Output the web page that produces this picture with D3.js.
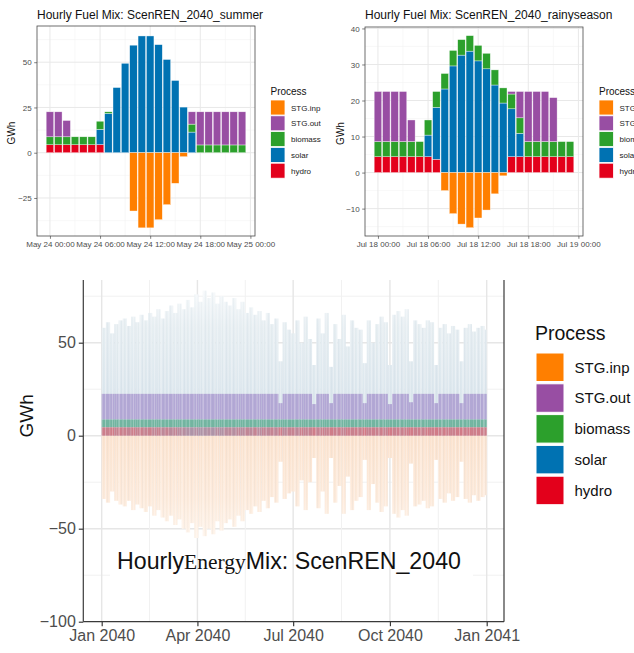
<!DOCTYPE html>
<html>
<head>
<meta charset="utf-8">
<script src="https://cdn.jsdelivr.net/npm/d3@7/dist/d3.min.js"></script>
<style>
  body { margin: 0; background: #fff; }
  svg { display: block; }
  text { font-family: "Liberation Sans", Arial, Helvetica, sans-serif; }
</style>
</head>
<body>
<svg id="chart" width="634" height="653"></svg>
<script>
// ---------- shared legend / palette ----------
const processes = ["STG.inp", "STG.out", "biomass", "solar", "hydro"];
const processColors = ["#FF7F00", "#984EA3", "#2CA02C", "#0072B2", "#E3001B"];
const stackKeys = ["hydro", "solar", "biomass", "STG.out", "STG.inp"];

// ---------- hourly day profiles (GWh) ----------
const hours = [0, 1, 2, 3, 4, 5, 6, 7, 8, 9, 10, 11, 12, 13, 14, 15, 16, 17, 18, 19, 20, 21, 22, 23];

const summerHydro   = [4.4, 4.4, 4.4, 4.4, 4.4, 4.4, 4.5, 0, 0, 0, 0, 0, 0, 0, 0, 0, 0, 0, 0, 0, 0, 0, 0, 0];
const summerSolar   = [0, 0, 0, 0, 0, 0, 8.4, 21.7, 36.0, 49.4, 59.4, 64.5, 64.5, 59.7, 51.5, 39.9, 25.2, 11.4, 0, 0, 0, 0, 0, 0];
const summerBiomass = [4.4, 4.4, 4.4, 4.4, 4.4, 4.4, 4.5, 0.9, 0, 0, 0, 0, 0, 0, 0, 0, 0, 4.4, 4.3, 4.3, 4.3, 4.3, 4.3, 4.3];
const summerStgOut  = [13.8, 13.8, 9.0, 0, 0, 0, 0, 0, 0, 0, 0, 0, 0, 0, 0, 0, 0, 6.8, 18.3, 18.3, 18.3, 18.3, 18.3, 18.3];
const summerStgInp  = [0, 0, 0, 0, 0, 0, 0, 0, 0, 0, -32.2, -41.5, -41.5, -37.0, -28.7, -16.9, -2.2, 0, 0, 0, 0, 0, 0, 0];

const rainyHydro   = [4.4, 4.4, 4.4, 4.4, 4.4, 4.4, 4.4, 3.7, 0, 0, 0, 0, 0, 0, 0, 0, 4.4, 4.4, 4.4, 4.4, 4.4, 4.4, 4.4, 4.4];
const rainySolar   = [0, 0, 0, 0, 0, 0, 6.0, 14.4, 23.2, 29.6, 32.6, 33.7, 31.0, 28.8, 24.3, 19.3, 13.3, 6.5, 0, 0, 0, 0, 0, 0];
const rainyBiomass = [4.2, 4.2, 4.2, 4.2, 4.2, 4.2, 4.2, 4.4, 4.3, 4.3, 4.3, 4.3, 4.3, 4.3, 4.2, 4.2, 4.1, 4.3, 4.2, 4.2, 4.2, 4.2, 4.2, 4.2];
const rainyStgOut  = [13.9, 13.9, 13.9, 13.9, 6.0, 0, 0, 0, 0, 0, 0, 0, 0, 0, 0, 0, 0.7, 7.3, 13.9, 13.9, 13.9, 12.2, 0, 0];
const rainyStgInp  = [0, 0, 0, 0, 0, 0, 0, 0, -5.0, -11.4, -14.3, -15.3, -12.6, -10.4, -5.9, -0.9, 0, 0, 0, 0, 0, 0, 0, 0];

const summerTickLabels = ["May 24 00:00", "May 24 06:00", "May 24 12:00", "May 24 18:00", "May 25 00:00"];
const rainyTickLabels  = ["Jul 18 00:00", "Jul 18 06:00", "Jul 18 12:00", "Jul 18 18:00", "Jul 19 00:00"];
const dayTickHours = [0, 6, 12, 18, 24];
const summerYTicks = [-25, 0, 25, 50];
const rainyYTicks  = [-10, 0, 10, 20, 30, 40];

// ---------- whole-year profile, 4-day bins (GWh) ----------
const yearSolarPeak = [
  58, 61, 55, 60, 62, 63, 59, 64, 61, 65,
  62, 66, 64, 68, 63, 67, 70, 66, 71, 68,
  73, 69, 76, 72, 78, 74, 77, 71, 75, 72,
  70, 74, 68, 72, 66, 69, 65, 67, 62, 66,
  60, 63, 40, 61, 57, 55, 62, 50, 64, 52,
  38, 63, 55, 66, 37, 60, 52, 65, 48, 62,
  58, 57, 39, 62, 50, 60, 64, 61, 38, 65,
  67, 64, 68, 40, 62, 60, 58, 62, 61, 38,
  58, 60, 55, 59, 57, 40, 58, 60, 56, 58,
  59, 57
];
const yearStgInpMin = [
  -34, -36, -30, -35, -37, -38, -35, -40, -37, -39,
  -41, -38, -43, -40, -44, -46, -43, -48, -45, -50,
  -52, -47, -55, -49, -54, -50, -53, -46, -51, -47,
  -45, -49, -43, -46, -40, -42, -38, -41, -35, -39,
  -33, -36, -14, -34, -31, -30, -38, -24, -40, -25,
  -12, -39, -30, -42, -12, -36, -27, -42, -22, -40,
  -35, -33, -13, -40, -26, -36, -41, -38, -12, -42,
  -44, -40, -43, -15, -38, -37, -35, -39, -38, -13,
  -34, -36, -31, -35, -33, -14, -34, -36, -32, -35,
  -33, -32
];
const yearStgOutTop = [
  22.5, 22.5, 22.5, 22.5, 22.5, 22.5, 22.5, 22.5, 22.5, 22.5,
  22.5, 22.5, 22.5, 22.5, 22.5, 22.5, 22.5, 22.5, 22.5, 22.5,
  22.5, 22.5, 22.5, 22.5, 22.5, 22.5, 22.5, 22.5, 22.5, 22.5,
  22.5, 22.5, 22.5, 22.5, 22.5, 22.5, 22.5, 22.5, 22.5, 22.5,
  22.5, 22.5, 17.5, 22.5, 22.5, 22.5, 22.5, 22.5, 22.5, 22.5,
  17.0, 22.5, 22.5, 22.5, 17.5, 22.5, 22.5, 22.5, 22.5, 22.5,
  22.5, 22.5, 17.5, 22.5, 22.5, 22.5, 22.5, 22.5, 17.0, 22.5,
  22.5, 22.5, 22.5, 18.0, 22.5, 22.5, 22.5, 22.5, 22.5, 17.5,
  22.5, 22.5, 22.5, 22.5, 22.5, 17.5, 22.5, 22.5, 22.5, 22.5,
  22.5, 22.5
];
// share of the hours in each bin during which hydro is dispatched
const yearHydroShare = [
  0.85, 0.8, 0.9, 0.75, 0.85, 0.8, 0.7, 0.85, 0.75, 0.8,
  0.7, 0.8, 0.65, 0.75, 0.6, 0.7, 0.55, 0.65, 0.5, 0.45,
  0.35, 0.3, 0.4, 0.3, 0.35, 0.4, 0.3, 0.45, 0.35, 0.5,
  0.55, 0.45, 0.6, 0.5, 0.65, 0.55, 0.7, 0.5, 0.65, 0.6,
  0.7, 0.6, 0.85, 0.55, 0.7, 0.75, 0.6, 0.8, 0.7, 0.75,
  0.9, 0.7, 0.8, 0.75, 0.9, 0.8, 0.85, 0.7, 0.85, 0.8,
  0.85, 0.8, 0.95, 0.75, 0.85, 0.8, 0.85, 0.75, 0.95, 0.8,
  0.85, 0.8, 0.85, 0.95, 0.8, 0.85, 0.8, 0.9, 0.85, 0.95,
  0.85, 0.9, 0.85, 0.8, 0.9, 0.95, 0.85, 0.9, 0.85, 0.9,
  0.85, 0.9
];
const yearHydroLevel = 4.5;
const yearBiomassTop = 8.7;
const yearTickDates = ["2040-01-01", "2040-04-01", "2040-07-01", "2040-10-01", "2041-01-01"];
const yearYTicks = [-100, -50, 0, 50];

// ---------- helpers ----------
const svg = d3.select("#chart");
const defs = svg.append("defs");
const colorOf = d3.scaleOrdinal().domain(processes).range(processColors);

function dayRows(h, s, b, o, i) {
  return hours.map((hr, k) => ({ hour: hr, hydro: h[k], solar: s[k], biomass: b[k], "STG.out": o[k], "STG.inp": i[k] }));
}

function drawDayPanel(cfg) {
  const g = svg.append("g");
  if (cfg.clipRight) {
    const cid = "clip" + cfg.id;
    defs.append("clipPath").attr("id", cid).append("rect")
      .attr("x", 0).attr("y", 0).attr("width", cfg.clipRight).attr("height", 260);
    g.attr("clip-path", `url(#${cid})`);
  }
  const { left, right, top, bottom } = cfg.box;
  const x = d3.scaleLinear().domain([-1.55, 24.55]).range([left, right]);
  const y = d3.scaleLinear().domain(cfg.yDomain).range([bottom, top]);

  g.append("rect").attr("x", left).attr("y", top).attr("width", right - left).attr("height", bottom - top).attr("fill", "#fff");

  // minor grid
  const yStep = cfg.yTicks[1] - cfg.yTicks[0];
  const yMinor = [cfg.yTicks[0] - yStep / 2].concat(cfg.yTicks.map(v => v + yStep / 2))
    .filter(v => v > cfg.yDomain[0] && v < cfg.yDomain[1]);
  const xMinor = [3, 9, 15, 21];
  g.append("g").selectAll("line").data(yMinor).join("line")
    .attr("x1", left).attr("x2", right).attr("y1", d => y(d)).attr("y2", d => y(d))
    .attr("stroke", "#f3f3f3").attr("stroke-width", 0.6);
  g.append("g").selectAll("line").data(xMinor).join("line")
    .attr("y1", top).attr("y2", bottom).attr("x1", d => x(d)).attr("x2", d => x(d))
    .attr("stroke", "#f3f3f3").attr("stroke-width", 0.6);
  // major grid
  g.append("g").selectAll("line").data(cfg.yTicks).join("line")
    .attr("x1", left).attr("x2", right).attr("y1", d => y(d)).attr("y2", d => y(d))
    .attr("stroke", "#e8e8e8").attr("stroke-width", 1);
  g.append("g").selectAll("line").data(dayTickHours).join("line")
    .attr("y1", top).attr("y2", bottom).attr("x1", d => x(d)).attr("x2", d => x(d))
    .attr("stroke", "#e8e8e8").attr("stroke-width", 1);

  // stacked bars
  const series = d3.stack().keys(stackKeys).offset(d3.stackOffsetDiverging)(cfg.rows);
  const bw = 0.9;
  g.append("g").selectAll("g").data(series).join("g")
    .attr("fill", s => colorOf(s.key))
    .selectAll("rect").data(s => s.filter(d => d[1] !== d[0])).join("rect")
      .attr("x", d => x(d.data.hour - bw / 2))
      .attr("width", x(bw) - x(0))
      .attr("y", d => y(Math.max(d[0], d[1])))
      .attr("height", d => Math.abs(y(d[0]) - y(d[1])))
      .attr("stroke", "#ffffff").attr("stroke-opacity", 0.75).attr("stroke-width", 0.5);

  // panel border
  g.append("rect").attr("x", left).attr("y", top).attr("width", right - left).attr("height", bottom - top)
    .attr("fill", "none").attr("stroke", "#4a4a4a").attr("stroke-width", 0.8);

  // axes
  const xa = g.append("g").attr("transform", `translate(0,${bottom})`)
    .call(d3.axisBottom(x).tickValues(dayTickHours).tickFormat((d, i) => cfg.xLabels[i]).tickSize(2.8).tickPadding(2.5));
  const ya = g.append("g").attr("transform", `translate(${left},0)`)
    .call(d3.axisLeft(y).tickValues(cfg.yTicks).tickFormat(d3.format("d")).tickSize(2.8).tickPadding(2.5));
  [xa, ya].forEach(a => {
    a.select(".domain").remove();
    a.selectAll(".tick line").attr("stroke", "#4a4a4a").attr("stroke-width", 0.7);
    a.selectAll(".tick text").attr("fill", "#4d4d4d").attr("font-size", 8)
      .attr("font-family", "'Liberation Sans', Arial, sans-serif");
  });

  g.append("text").attr("x", left).attr("y", 19).attr("font-size", 12).attr("fill", "#111").text(cfg.title);
  g.append("text").attr("transform", `translate(${cfg.yLabelX},${(top + bottom) / 2 + 2}) rotate(-90)`)
    .attr("text-anchor", "middle").attr("font-size", 10).attr("fill", "#111").text("GWh");

  // legend
  const lg = g.append("g").attr("transform", `translate(${cfg.legendX},0)`);
  lg.append("text").attr("x", 0).attr("y", 94.5).attr("font-size", 10).attr("fill", "#111").text("Process");
  const item = lg.selectAll("g.item").data(processes).join("g").attr("class", "item")
    .attr("transform", (d, i) => `translate(0,${100 + i * 15.8})`);
  item.append("rect").attr("width", 14.5).attr("height", 15).attr("fill", d => colorOf(d))
    .attr("stroke", "#fff").attr("stroke-width", 0.8);
  item.append("text").attr("x", 20.5).attr("y", 10.5).attr("font-size", 8).attr("fill", "#222").text(d => d);
}

drawDayPanel({
  id: "summer", title: "Hourly Fuel Mix: ScenREN_2040_summer",
  box: { left: 37, right: 255, top: 26, bottom: 236 }, yDomain: [-46, 70], yTicks: summerYTicks,
  rows: dayRows(summerHydro, summerSolar, summerBiomass, summerStgOut, summerStgInp),
  xLabels: summerTickLabels, yLabelX: 15, legendX: 270.5, clipRight: 321
});
drawDayPanel({
  id: "rainy", title: "Hourly Fuel Mix: ScenREN_2040_rainyseason",
  box: { left: 365, right: 583, top: 27, bottom: 236 }, yDomain: [-17.6, 40.4], yTicks: rainyYTicks,
  rows: dayRows(rainyHydro, rainySolar, rainyBiomass, rainyStgOut, rainyStgInp),
  xLabels: rainyTickLabels, yLabelX: 344, legendX: 599
});

// ---------- whole-year panel ----------
(function drawYear() {
  const left = 83.3, right = 504, top = 280, bottom = 621.7;
  const parse = d3.utcParse("%Y-%m-%d");
  const tickDates = yearTickDates.map(parse);
  const x = d3.scaleUtc().domain([tickDates[0], tickDates[tickDates.length - 1]]).range([101.7, 486.7]);
  const y = d3.scaleLinear().domain([-100, 50]).range([bottom, 342.7]);
  const g = svg.append("g");

  // gridlines
  const yMinor = [75, 25, -25, -75];
  const xMinor = d3.pairs(tickDates).map(([a, b]) => new Date((+a + +b) / 2));
  g.append("g").selectAll("line").data(yMinor).join("line")
    .attr("x1", left).attr("x2", right).attr("y1", d => y(d)).attr("y2", d => y(d))
    .attr("stroke", "#f1f1f1").attr("stroke-width", 1);
  g.append("g").selectAll("line").data(yearYTicks.filter(v => v > -100)).join("line")
    .attr("x1", left).attr("x2", right).attr("y1", d => y(d)).attr("y2", d => y(d))
    .attr("stroke", "#e6e6e6").attr("stroke-width", 1.4);
  // clear strip behind the caption
  g.append("rect").attr("x", 110).attr("y", 560).attr("width", 363).attr("height", 28).attr("fill", "#fff");
  g.append("g").selectAll("line").data(xMinor).join("line")
    .attr("y1", top).attr("y2", bottom).attr("x1", d => x(d)).attr("x2", d => x(d))
    .attr("stroke", "#f1f1f1").attr("stroke-width", 1);
  g.append("g").selectAll("line").data(tickDates).join("line")
    .attr("y1", top).attr("y2", bottom).attr("x1", d => x(d)).attr("x2", d => x(d))
    .attr("stroke", "#e6e6e6").attr("stroke-width", 1.4);

  // haze gradients and fine streak texture
  const gs = defs.append("linearGradient").attr("id", "solarHaze").attr("gradientUnits", "userSpaceOnUse")
    .attr("x1", 0).attr("x2", 0).attr("y1", y(78)).attr("y2", y(22));
  gs.append("stop").attr("offset", 0).attr("stop-color", "#f5f8fa");
  gs.append("stop").attr("offset", 0.35).attr("stop-color", "#e7eef2");
  gs.append("stop").attr("offset", 1).attr("stop-color", "#dde7ee");
  const go = defs.append("linearGradient").attr("id", "inpHaze").attr("gradientUnits", "userSpaceOnUse")
    .attr("x1", 0).attr("x2", 0).attr("y1", y(0)).attr("y2", y(-56));
  go.append("stop").attr("offset", 0).attr("stop-color", "#fce3cf");
  go.append("stop").attr("offset", 0.6).attr("stop-color", "#fdeadb");
  go.append("stop").attr("offset", 1).attr("stop-color", "#fef4eb");
  const pat = defs.append("pattern").attr("id", "streaks").attr("patternUnits", "userSpaceOnUse")
    .attr("width", 7).attr("height", 10);
  [[0, 0.8, "#ffffff", 0.32], [2.3, 0.6, "#7f9bb2", 0.10], [4.1, 0.7, "#ffffff", 0.22], [5.6, 0.5, "#7f9bb2", 0.07]]
    .forEach(([px, pw, pc, po]) => pat.append("rect").attr("x", px).attr("y", 0).attr("width", pw).attr("height", 10)
      .attr("fill", pc).attr("fill-opacity", po));

  const bins = yearSolarPeak.map((v, i) => ({
    start: new Date(Date.UTC(2040, 0, 1 + i * 4)),
    end: new Date(Date.UTC(2040, 0, 1 + Math.min(i * 4 + 4, 366))),
    solar: v, inp: yearStgInpMin[i], out: yearStgOutTop[i], hydro: yearHydroShare[i]
  }));
  const bx = d => x(d.start), bwid = d => x(d.end) - x(d.start);
  const data = g.append("g");
  data.append("g").selectAll("rect").data(bins).join("rect")
    .attr("x", bx).attr("width", bwid).attr("y", d => y(d.solar)).attr("height", d => y(0) - y(d.solar))
    .attr("fill", "url(#solarHaze)");
  data.append("g").selectAll("rect").data(bins).join("rect")
    .attr("x", bx).attr("width", bwid).attr("y", y(0)).attr("height", d => y(d.inp) - y(0))
    .attr("fill", "url(#inpHaze)");
  data.append("g").selectAll("rect").data(bins).join("rect")
    .attr("x", bx).attr("width", bwid).attr("y", d => y(d.out)).attr("height", d => y(yearBiomassTop) - y(d.out))
    .attr("fill", "#b3a7d5");
  data.append("g").selectAll("rect").data(bins).join("rect")
    .attr("x", bx).attr("width", bwid).attr("y", y(yearBiomassTop)).attr("height", y(yearHydroLevel) - y(yearBiomassTop))
    .attr("fill", "#72b5a0");
  const hydroMix = d3.interpolateRgb("#9f9eb6", "#d67883");
  data.append("g").selectAll("rect").data(bins).join("rect")
    .attr("x", bx).attr("width", bwid).attr("y", y(yearHydroLevel)).attr("height", y(0) - y(yearHydroLevel))
    .attr("fill", d => hydroMix(d.hydro));
  // streak overlay across each bin's full extent
  data.append("g").selectAll("rect").data(bins).join("rect")
    .attr("x", bx).attr("width", bwid).attr("y", d => y(d.solar)).attr("height", d => y(d.inp) - y(d.solar))
    .attr("fill", "url(#streaks)");

  // axis lines
  g.append("line").attr("x1", left).attr("x2", left).attr("y1", top).attr("y2", bottom).attr("stroke", "#3a3a3a").attr("stroke-width", 1.2);
  g.append("line").attr("x1", right).attr("x2", right).attr("y1", top).attr("y2", bottom).attr("stroke", "#3a3a3a").attr("stroke-width", 1.2);
  const xa = g.append("g").attr("transform", `translate(0,${bottom})`)
    .call(d3.axisBottom(x).tickValues(tickDates).tickFormat(d3.utcFormat("%b %Y")).tickSize(4.5).tickPadding(3).tickSizeOuter(0));
  xa.select(".domain").attr("d", `M${left},0H${right}`);
  const ya = g.append("g").attr("transform", `translate(${left},0)`)
    .call(d3.axisLeft(y).tickValues(yearYTicks).tickFormat(d3.format("d")).tickSize(4.5).tickPadding(3).tickSizeOuter(0));
  ya.select(".domain").remove();
  [xa, ya].forEach(a => {
    a.selectAll(".domain, .tick line").attr("stroke", "#3a3a3a").attr("stroke-width", 1.2);
    a.selectAll(".tick text").attr("fill", "#4d4d4d").attr("font-size", 16)
      .attr("font-family", "'Liberation Sans', Arial, sans-serif");
  });

  g.append("text").attr("transform", `translate(33,${(top + bottom) / 2 - 35}) rotate(-90)`)
    .attr("text-anchor", "middle").attr("font-size", 19).attr("fill", "#111").text("GWh");

  // caption inside the panel
  const cap = g.append("text").attr("x", 117).attr("y", 569).attr("font-size", 23.2).attr("fill", "#111");
  cap.append("tspan").text("Hourly");
  cap.append("tspan").attr("font-family", "'Liberation Serif', 'Times New Roman', serif").attr("font-size", 21.5).text("Energy");
  cap.append("tspan").text("Mix: ScenREN_2040");

  // legend
  const lg = g.append("g").attr("transform", "translate(535,0)");
  lg.append("text").attr("x", 0).attr("y", 340).attr("font-size", 19.5).attr("fill", "#111").text("Process");
  const item = lg.selectAll("g.item").data(processes).join("g").attr("class", "item")
    .attr("transform", (d, i) => `translate(1,${353 + i * 30.8})`);
  item.append("rect").attr("width", 28).attr("height", 28.5).attr("fill", d => colorOf(d))
    .attr("stroke", "#fff").attr("stroke-width", 1);
  item.append("text").attr("x", 38.5).attr("y", 19.5).attr("font-size", 15).attr("fill", "#111").text(d => d);
})();
</script>
</body>
</html>
